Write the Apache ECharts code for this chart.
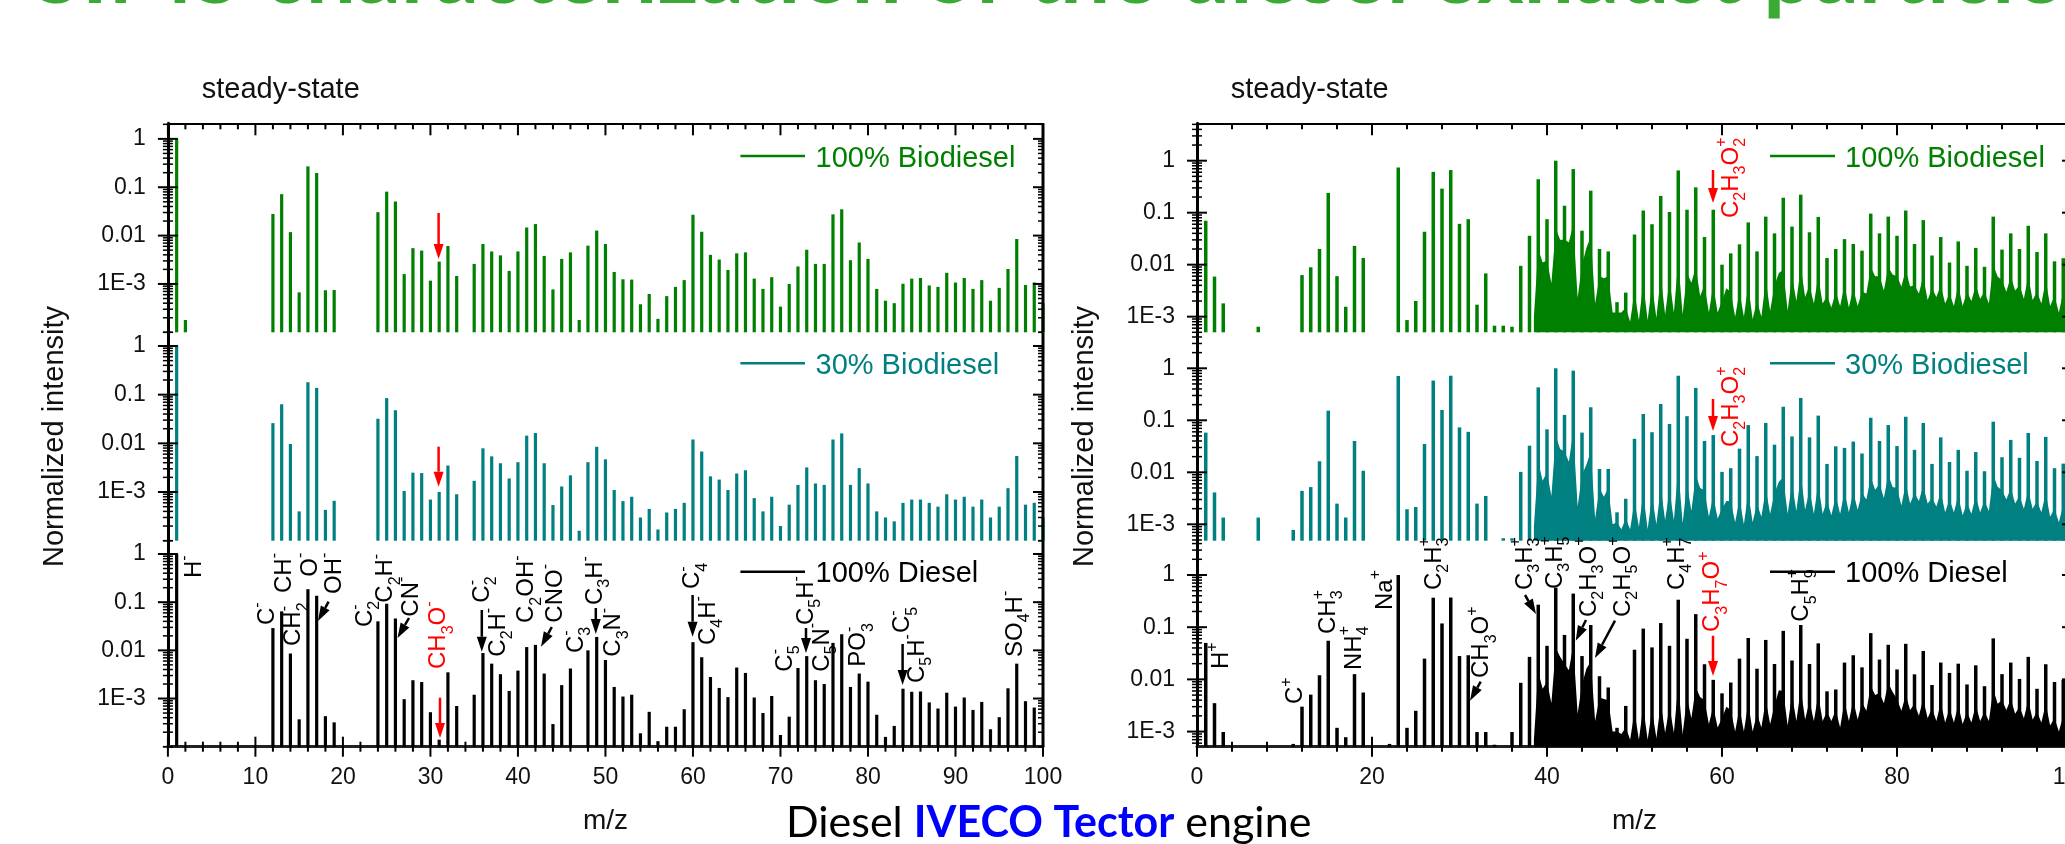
<!DOCTYPE html>
<html>
	<head>
		<meta charset="UTF-8">
		<title>Diesel IVECO Tector engine</title>
		<script src="https://cdn.jsdelivr.net/npm/echarts@6/dist/echarts.min.js"></script>
		<style>
			html, body { margin: 0; padding: 0; background: #fff; }
			#main { width: 2065px; height: 844px; }
		</style>
	</head>
	<body>
		<div id="main"></div>
		<script type="text/javascript">
			// negative ions, m/z list shared by the three left panels
			var leftMz = [1,2,12,13,14,15,16,17,18,19,24,25,26,27,28,29,30,31,32,33,35,36,37,38,39,40,41,42,43,44,45,46,47,48,49,50,51,52,53,54,55,56,57,58,59,60,61,62,63,64,65,66,67,68,69,70,71,72,73,74,75,76,77,78,79,80,81,82,83,84,85,86,87,88,89,90,91,92,93,94,95,96,97,98,99,100];
			var left100Bio = [1,1.8e-4,.028,.072,.0118,6.7e-4,.27,.197,7.4e-4,7.5e-4,.0305,.081,.051,.0016,.0055,.0049,.00117,.0029,.0061,.00146,.0026,.0067,.0047,.0039,.00186,.0047,.0147,.0173,.0038,7.7e-4,.0033,.0045,1.8e-4,.0062,.0127,.0067,.00177,.00125,.00123,3.8e-4,6.2e-4,1.9e-4,5.6e-4,8.7e-4,.0012,.027,.012,.004,.0032,.00195,.0043,.0045,.00129,7.9e-4,.00138,3.4e-4,.001,.0023,.0051,.0026,.0026,.0275,.035,.0031,.0072,.0033,7.9e-4,4.5e-4,4e-4,.00101,.00129,.00133,9.3e-4,8.7e-4,.0017,.00107,.00133,7.9e-4,.0012,4.5e-4,8.3e-4,.00204,.0085,9.5e-4,.00107,4e-4];
			var left30Bio = [1,null,.026,.0635,.0097,4e-4,.18,.138,4.3e-4,6.6e-4,.032,.085,.048,.00105,.0025,.00245,7e-4,.001,.0035,9e-4,.0017,.0079,.0054,.0039,.0019,.0041,.0144,.0163,.0039,5.4e-4,.0013,.0022,1.6e-4,.0041,.0085,.0047,.0011,6.5e-4,8e-4,3e-4,4.5e-4,1.7e-4,3.8e-4,4.5e-4,6e-4,.012,.0068,.0021,.0018,.0011,.0024,.0028,7.5e-4,4e-4,8e-4,2e-4,5.5e-4,.0014,.0032,.0015,.0014,.012,.016,.0014,.0031,.0015,4e-4,3e-4,2.5e-4,6e-4,7e-4,7e-4,6e-4,5e-4,9e-4,7e-4,8e-4,5e-4,7e-4,3e-4,5e-4,.0012,.0055,5.5e-4,6e-4,3e-4];
			var leftDiesel = [1,null,.029,.0645,.0086,3.7e-4,.186,.136,4.3e-4,3.2e-4,.04,.093,.046,9.7e-4,.0024,.0022,5.2e-4,1.4e-4,.0035,7e-4,.0012,.0088,.0053,.0032,.00144,.0038,.0117,.013,.0033,2.95e-4,.0019,.0042,null,.01,.019,.0063,.00174,.0011,.0012,1.9e-4,5.3e-4,1.3e-4,2.6e-4,2.6e-4,6e-4,.0148,.0072,.0028,.00166,.00107,.0044,.0034,.00105,5e-4,.00113,1.75e-4,4.2e-4,.0043,.0076,.0024,.002,.0143,.0216,.00174,.0033,.00224,4.6e-4,1.6e-4,2.7e-4,.0016,.00138,.0014,8.3e-4,6.2e-4,.00132,6.8e-4,.00105,5.8e-4,8.5e-4,2.3e-4,4.1e-4,.00163,.0053,8.8e-4,6.5e-4,null];

			// positive ions, main peaks
			var rightMz = [1,2,3,7,11,12,13,14,15,16,17,18,19,22,23,24,25,26,27,28,29,30,31,32,33,34,35,36,37,38,39,40,41,42,43,44,45,46,47,48,49,50,51,52,53,54,55,56,57,58,59,60,61,62,63,64,65,66,67,68,69,70,71,72,73,74,75,76,77,78,79,80,81,82,83,84,85,86,87,88,89,90,91,92,93,94,95,96,97,98,99];
			var right100Bio = [.07,.0059,.0018,6.4e-4,null,.0063,.0089,.02,.24,.006,.00155,.023,.0134,null,.74,8.6e-4,.002,.043,.61,.29,.66,.061,.075,.0017,.0068,6.7e-4,6.7e-4,6.4e-4,.0095,.036,.44,.075,1,.136,.69,.045,.265,.02,.018,.0019,.0029,.038,.11,.06,.21,.103,.65,.114,.307,.034,.114,.01,.0165,.0246,.065,.018,.084,.04,.194,.054,.222,.042,.083,.0134,.02,.031,.025,.0186,.096,.04,.084,.036,.11,.025,.072,.015,.034,.011,.028,.0095,.021,.0091,.084,.0195,.04,.02,.056,.0175,.04,.0116,.0133];
			var right30Bio = [.058,.0041,.00135,.00135,7.8e-4,.0044,.0052,.0163,.153,.0025,.00135,.04,.0107,null,.71,.00195,.00215,.035,.58,.158,.72,.073,.06,.0025,.0035,null,5.4e-4,5.4e-4,.0102,.0325,.43,.067,1,.127,.9,.058,.178,.0116,.0116,.0017,.0031,.044,.132,.059,.206,.085,.72,.12,.42,.04,.052,.0102,.012,.0285,.081,.0205,.089,.034,.182,.049,.269,.047,.123,.0145,.0316,.0295,.039,.023,.112,.04,.081,.032,.117,.027,.089,.0145,.047,.0158,.027,.0107,.0245,.0105,.094,.0195,.042,.019,.057,.0165,.048,.012,.0147];
			var rightDiesel = [.05,.0035,9.8e-4,null,5.8e-4,.003,.0051,.012,.055,.00118,7.8e-4,.0126,.0056,5.8e-4,1,.00118,.0025,.025,.367,.118,.37,.028,.029,9.8e-4,9.8e-4,5.6e-4,null,9.8e-4,.0086,.027,.27,.044,.57,.071,.44,.028,.11,.0115,.007,.00118,.0031,.037,.094,.041,.12,.044,.336,.06,.178,.0195,.0098,.0054,.0087,.025,.062,.016,.057,.0197,.085,.023,.11,.0197,.049,.0059,.0064,.021,.029,.017,.077,.024,.046,.0155,.048,.0125,.035,.0078,.021,.0133,.02,.008,.0186,.0074,.061,.0126,.021,.0102,.027,.0066,.0195,.0089,.0098];

			// dense background: valleys read at half masses, skirts of the peaks at whole masses
			var floorMz = [38.5,39.5,40.5,41.5,42.5,43.5,44.5,45.5,46.5,47.5,48.5,49.5,50.5,51.5,52.5,53.5,54.5,55.5,56.5,57.5,58.5,59.5,60.5,61.5,62.5,63.5,64.5,65.5,66.5,67.5,68.5,69.5,70.5,71.5,72.5,73.5,74.5,75.5,76.5,77.5,78.5,79.5,80.5,81.5,82.5,83.5,84.5,85.5,86.5,87.5,88.5,89.5,90.5,91.5,92.5,93.5,94.5,95.5,96.5,97.5,98.5,99.5];
			var floor100Bio = [.001,.011,.0044,.03,.027,.0023,.021,.0018,.0055,.0012,.0012,8e-4,8.5e-4,8.5e-4,9.5e-4,.0011,.0012,.0011,.0045,.0025,.0012,.0012,.0035,.001,.001,9e-4,.001,.0013,.0069,.0013,.002,.0024,.0018,.0018,.0015,.0016,.0015,.0016,.0028,.006,.0032,.0065,.0038,.0038,.0028,.0021,.0024,.0018,.0016,.0016,.002,.0022,.0018,.0059,.003,.0032,.0022,.0021,.0018,.0016,.0012,.0012];
			var floor30Bio = [9e-4,.0069,.0035,.028,.016,.0022,.014,.0013,.0034,.001,8e-4,8e-4,9e-4,8e-4,.001,.0012,.0012,.00105,.0018,.005,.0014,.0013,.0028,.0011,.001,.0011,.0014,.0016,.0066,.0016,.0018,.0019,.0016,.0016,.0015,.0016,.0017,.0019,.003,.0046,.0032,.0052,.0023,.0025,.0028,.0025,.0022,.0017,.0017,.0015,.0016,.0017,.0018,.0053,.003,.0025,.002,.002,.0017,.0014,.0011,.0011];
			var floorDiesel = [7e-4,.0066,.0035,.027,.015,.0022,.016,.0016,.0042,.001,9e-4,7e-4,7e-4,7e-4,7.5e-4,9.5e-4,9.5e-4,9e-4,.0018,.0046,.0014,.0012,.003,.001,.001,.001,.0012,.0014,.0062,.0013,.0016,.0017,.0016,.0016,.0016,.0012,.0016,.0017,.0025,.005,.0035,.0057,.0025,.0026,.002,.0018,.0016,.0015,.0015,.0014,.0015,.0016,.0016,.0034,.0026,.0022,.0018,.0017,.0015,.0013,.001,.001];
			var skirtMz = [39,40,41,42,43,44,45,46,47,48,49,50,51,52,53,54,55,56,57,58,59,60,61,62,63,64,65,66,67,68,69,70,71,72,73,74,75,76,77,78,79,80,81,82,83,84,85,86,87,88,89,90,91,92,93,94,95,96,97,98,99];
			var skirt100Bio = [.02,.012,.05,.03,.06,.01,.035,.006,.006,.0012,.0015,.003,.0045,.004,.006,.005,.012,.007,.009,.004,.004,.002,.003,.003,.004,.002,.005,.004,.008,.006,.009,.004,.006,.0025,.003,.004,.0035,.003,.009,.006,.009,.006,.008,.004,.006,.0035,.004,.0028,.004,.003,.004,.003,.01,.005,.006,.004,.006,.003,.005,.0025,.003];
			var skirt30Bio = [.016,.01,.05,.025,.06,.009,.025,.005,.005,.0011,.0013,.0028,.004,.0035,.005,.0045,.012,.006,.009,.0045,.0035,.002,.0028,.003,.004,.0025,.0048,.004,.008,.006,.009,.0045,.006,.0028,.0035,.0042,.0042,.004,.008,.006,.009,.005,.006,.004,.0055,.0032,.0042,.003,.0035,.0026,.0035,.0028,.009,.0045,.005,.0035,.0045,.0028,.004,.002,.0024];
			var skirtDiesel = [.014,.009,.04,.02,.045,.008,.022,.0045,.004,.001,.0012,.0024,.003,.0026,.0035,.003,.008,.0045,.007,.004,.003,.0018,.0026,.0028,.0035,.0022,.004,.0032,.006,.005,.0065,.0038,.005,.0024,.0026,.0038,.004,.0036,.0075,.0055,.0085,.0042,.005,.0034,.0042,.0028,.0036,.0028,.0032,.0024,.0032,.0024,.0065,.004,.0042,.003,.004,.0024,.0034,.0018,.002];

			var yTickValues = [1, .1, .01, .001];
			var yTickLabels = ['1', '0.1', '0.01', '1E-3'];
			var yMinorValues = [];
			[1e-4, 1e-3, .01, .1, 1].forEach(function (d) {
				[1,2,3,4,5,6,7,8,9].forEach(function (k) {
					if (d * k !== 1 && d * k !== .1 && d * k !== .01 && d * k !== .001) yMinorValues.push(d * k);
				});
			});
			yMinorValues.push(1e-4);

			var green = '#008000', teal = '#008080', black = '#000000', red = '#ff0000';
			var font = '"Liberation Sans", Arial, sans-serif';

			// [top, bottom, log min, log max]
			var panelsLeft = [[123.3, 332.3, 1e-4, 2.1], [332.3, 540.7, 1e-4, 1.91], [540.7, 746.7, 1e-4, 1.89]];
			var panelsRight = [[123.3, 332.3, 5e-4, 5.24], [332.3, 540.7, 4.84e-4, 4.92], [540.7, 746.7, 5.13e-4, 4.54]];

			var grids = [], xAxes = [], yAxes = [], series = [];

			function addChart(x0, x1, panels, xMajor, xMinor) {
				panels.forEach(function (p, k) {
					var i = grids.length;
					// the right chart runs past the window, keep v6 from squeezing it back in
					grids.push({ left: x0, width: x1 - x0, top: p[0], height: p[1] - p[0], outerBoundsMode: 'none' });
					xAxes.push({
						gridIndex: i, type: 'value', min: 0, max: 100, interval: xMajor,
						position: k === 0 ? 'top' : 'bottom',
						name: k === 2 ? 'm/z' : '', nameLocation: 'middle', nameGap: 61,
						nameTextStyle: { fontFamily: font, fontSize: 28, color: '#111' },
						splitLine: { show: false },
						axisTick: { show: false },
						axisLine: { show: k !== 1, onZero: false, lineStyle: { color: k === 2 ? '#222' : black, width: k === 2 ? 3 : 2 } },
						axisLabel: { show: k === 2, margin: 19, fontFamily: font, fontSize: 23, color: '#111', showMaxLabel: true, hideOverlap: false }
					});
					yAxes.push({
						gridIndex: i, type: 'log', logBase: 10, min: p[2], max: p[3],
						name: k === 1 ? 'Normalized intensity' : '', nameLocation: 'middle', nameGap: 98,
						nameTextStyle: { fontFamily: font, fontSize: 29, color: '#111' },
						splitLine: { show: false },
						minorTick: { show: false },
						axisTick: { show: false },
						axisLine: { show: true, onZero: false, lineStyle: { color: black, width: 3 } },
						axisLabel: {
							margin: 22, fontFamily: font, fontSize: 23, color: '#111',
							customValues: yTickValues,
							formatter: function (v) { return yTickLabels[Math.round(-Math.log10(v))]; }
						}
					});
					series.push(tickSeries(i, p, k, xMajor, xMinor));
				});
			}

			// tick marks cross the axes on both sides, log minors included
			function tickSeries(i, p, k, xMajor, xMinor) {
				return {
					type: 'custom', xAxisIndex: i, yAxisIndex: i, silent: true, z: 5,
					data: [[0, 1]],
					renderItem: function (params, api) {
						var out = [];
						function seg(a, b, c, d, w) {
							out.push({ type: 'line', shape: { x1: a, y1: b, x2: c, y2: d }, style: { stroke: black, lineWidth: w } });
						}
						var xl = api.coord([0, 1])[0], xr = api.coord([100, 1])[0];
						yTickValues.forEach(function (v) {
							var y = api.coord([0, v])[1];
							seg(xl - 10, y, xl + 10, y, 2);
							seg(xr - 10, y, xr, y, 2);
						});
						yMinorValues.forEach(function (v) {
							if (v > p[3] || v < p[2]) return;
							var y = api.coord([0, v])[1];
							seg(xl - 5, y, xl + 5, y, 1.5);
							seg(xr - 5, y, xr, y, 1.5);
						});
						seg(xr, p[0], xr, p[1], 3);
						for (var m = 0; m <= 100; m += xMinor) {
							var x = api.coord([m, 1])[0];
							var major = m % xMajor === 0;
							if (k === 0) seg(x, p[0], x, p[0] + (major ? 12 : 6), 2);
							if (k === 2) seg(x, p[1] - (major ? 10 : 5), x, p[1] + (major ? 10 : 5), 2);
						}
						return { type: 'group', children: out };
					}
				};
			}

			function stems(i, mz, vals, color, base, w) {
				var data = [];
				mz.forEach(function (m, k) { if (vals[k] != null) data.push([m, vals[k]]); });
				series.push({
					type: 'custom', xAxisIndex: i, yAxisIndex: i, silent: true, z: 3,
					data: data, encode: { x: 0, y: 1 },
					renderItem: function (params, api) {
						var top = api.coord([api.value(0), api.value(1)]);
						var bot = api.coord([api.value(0), base]);
						return { type: 'line', shape: { x1: top[0], y1: top[1], x2: bot[0], y2: bot[1] }, style: { stroke: color, lineWidth: w } };
					}
				});
			}

			function floorFill(i, vals, skirts, color, base) {
				series.push({
					type: 'custom', xAxisIndex: i, yAxisIndex: i, silent: true, z: 2,
					data: [[floorMz[0], vals[0]]],
					renderItem: function (params, api) {
						var pts = [api.coord([floorMz[0], base])];
						floorMz.forEach(function (m, k) {
							pts.push(api.coord([m, vals[k]]));
							if (k < skirtMz.length) pts.push(api.coord([skirtMz[k], skirts[k]]));
						});
						pts.push(api.coord([floorMz[floorMz.length - 1], base]));
						return { type: 'polygon', shape: { points: pts }, style: { fill: color } };
					}
				});
			}

			addChart(167.9, 1043, panelsLeft, 10, 2);
			addChart(1197, 2072, panelsRight, 20, 4);

			stems(0, leftMz, left100Bio, green, 1e-4, 3.2);
			stems(1, leftMz, left30Bio, teal, 1e-4, 3.2);
			stems(2, leftMz, leftDiesel, black, 1e-4, 3.2);
			floorFill(3, floor100Bio, skirt100Bio, green, panelsRight[0][2]);
			floorFill(4, floor30Bio, skirt30Bio, teal, panelsRight[1][2]);
			floorFill(5, floorDiesel, skirtDiesel, black, panelsRight[2][2]);
			stems(3, rightMz, right100Bio, green, panelsRight[0][2], 3.5);
			stems(4, rightMz, right30Bio, teal, panelsRight[1][2], 3.5);
			stems(5, rightMz, rightDiesel, black, panelsRight[2][2], 3.5);

			// annotations: formula, x of the glyphs, lower end of the rotated text, colour
			var notes = [
				['H^-', 194, 578], ['C^-', 267, 625], ['CH^-', 284, 593], ['CH_2^-', 293.6, 646], ['O^-', 310, 576.7], ['OH^-', 334, 594],
				['C_2^-', 365, 627], ['C_2H^-', 385.7, 602.7], ['CN^-', 411, 616.7], ['CH_3O^-', 438.6, 669, red],
				['C_2^-', 482, 602.7], ['C_2H^-', 498, 656.7], ['C_2OH^-', 526.8, 623], ['CNO^-', 555, 622.7],
				['C_3^-', 576, 653], ['C_3H^-', 595, 605], ['C_3N^-', 613.4, 656.7], ['C_4^-', 692.6, 589], ['C_4H^-', 708, 645],
				['C_5^-', 785, 671.7], ['C_5H^-', 806, 625], ['C_5N^-', 822, 671.7], ['PO_3^-', 858.5, 666.7],
				['C_5^-', 902.6, 633], ['C_5H^-', 917, 683], ['SO_4H^-', 1015, 657],
				['H^+', 1221.7, 669], ['C^+', 1295.7, 704], ['CH_3^+', 1328, 634], ['NH_4^+', 1354, 670], ['Na^+', 1385, 610],
				['C_2H_3^+', 1434, 590], ['CH_3O^+', 1481.7, 678], ['C_3H_3^+', 1525, 590], ['C_3H_5^+', 1555, 589],
				['C_2H_3O^+', 1589, 617], ['C_2H_5O^+', 1623, 617], ['C_4H_7^+', 1677, 590], ['C_3H_7O^+', 1712.7, 632, red], ['C_5H_9^+', 1801.7, 621.7],
				['C_2H_3O_2^+', 1731, 218, red], ['C_2H_3O_2^+', 1731, 447, red]
			];
			var arrows = [
				[328.6, 601.7, 318, 621], [409, 618, 397.5, 638], [481.8, 610, 481.8, 651.7], [551.8, 627, 541, 646.7],
				[595.8, 608, 595.8, 634], [692.6, 595, 692.6, 636.7], [806, 628, 806, 653], [902.6, 644, 902.6, 685],
				[440, 697.7, 440, 738, red], [438.6, 213, 438.6, 259, red], [438.6, 446.7, 438.6, 486.7, red],
				[1525, 595, 1536, 614], [1480.7, 681.7, 1470, 700.7], [1586, 620, 1575.7, 640.7], [1615, 620.7, 1595, 658],
				[1713, 635.7, 1713, 676, red], [1713, 170, 1713, 203, red], [1713, 399, 1713, 431, red]
			];
			var legends = [
				['100% Biodiesel', green, 156], ['30% Biodiesel', teal, 363.3], ['100% Diesel', black, 571.7]
			];

			var measure = document.createElement('canvas').getContext('2d');
			var gfx = [];

			function textAt(str, x, y, size, color) {
				gfx.push({
					type: 'text', x: x, y: y, rotation: Math.PI / 2, z: 100, silent: true,
					style: { text: str, align: 'left', verticalAlign: 'middle', fontFamily: font, fontSize: size, fill: color }
				});
			}

			// rotated formula, sub and superscripts share one column like in the source figure
			function formula(spec, xc, yb, color) {
				var y = yb, lastSub = null;
				spec.match(/[_^].|[^_^]+/g).forEach(function (tok) {
					if (tok[0] === '_') {
						textAt(tok[1], xc + 10, y, 16, color);
						lastSub = y;
						measure.font = '16px ' + font;
						y -= measure.measureText(tok[1]).width;
					} else if (tok[0] === '^') {
						textAt(tok[1], xc - 9, lastSub !== null ? lastSub : y, 16, color);
						lastSub = null;
					} else {
						textAt(tok, xc, y, 24, color);
						measure.font = '24px ' + font;
						y -= measure.measureText(tok).width;
						lastSub = null;
					}
				});
			}

			function arrow(a) {
				var c = a[4] || black;
				var dx = a[2] - a[0], dy = a[3] - a[1], len = Math.sqrt(dx * dx + dy * dy);
				var ux = dx / len, uy = dy / len, bx = a[2] - ux * 15, by = a[3] - uy * 15;
				gfx.push({ type: 'line', z: 100, silent: true, shape: { x1: a[0], y1: a[1], x2: bx, y2: by }, style: { stroke: c, lineWidth: 2.5 } });
				gfx.push({
					type: 'polygon', z: 100, silent: true,
					shape: { points: [[a[2], a[3]], [bx - uy * 5, by + ux * 5], [bx + uy * 5, by - ux * 5]] },
					style: { fill: c }
				});
			}

			notes.forEach(function (n) { formula(n[0], n[1], n[2], n[3] || black); });
			arrows.forEach(arrow);

			legends.forEach(function (l) {
				[[740.4, 805, 815.5], [1770, 1835, 1845]].forEach(function (x) {
					gfx.push({ type: 'line', z: 100, silent: true, shape: { x1: x[0], y1: l[2], x2: x[1], y2: l[2] }, style: { stroke: l[1], lineWidth: 2.5 } });
					gfx.push({ type: 'text', x: x[2], y: l[2] + 2.5, z: 100, silent: true, style: { text: l[0], align: 'left', verticalAlign: 'middle', fontFamily: font, fontSize: 29, fill: l[1] } });
				});
			});

			[201.8, 1230.7].forEach(function (x) {
				gfx.push({ type: 'text', x: x, y: 90, silent: true, style: { text: 'steady-state', align: 'left', verticalAlign: 'middle', fontFamily: font, fontSize: 29, fill: '#111' } });
			});

			gfx.push({
				type: 'text', x: 786, y: 823, z: 100, silent: true,
				style: {
					text: 'Diesel {b|IVECO Tector} engine', align: 'left', verticalAlign: 'middle',
					fontFamily: 'Lato', fontSize: 43, fill: '#000',
					rich: { b: { fontFamily: 'Lato', fontSize: 43, fontWeight: 'bold', fill: '#0000ff' } }
				}
			});
			gfx.push({
				type: 'text', x: 33, y: -26, silent: true,
				style: { text: 'SIMS characterization of the diesel exhaust particles', align: 'left', verticalAlign: 'middle', fontFamily: 'Lato', fontWeight: 'bold', fontSize: 89, fill: '#3aaa35' }
			});

			var myChart = echarts.init(document.getElementById('main'));
			myChart.setOption({
				animation: false,
				backgroundColor: '#fff',
				textStyle: { fontFamily: font },
				grid: grids,
				xAxis: xAxes,
				yAxis: yAxes,
				series: series,
				graphic: { elements: gfx }
			});
		</script>
	</body>
</html>
